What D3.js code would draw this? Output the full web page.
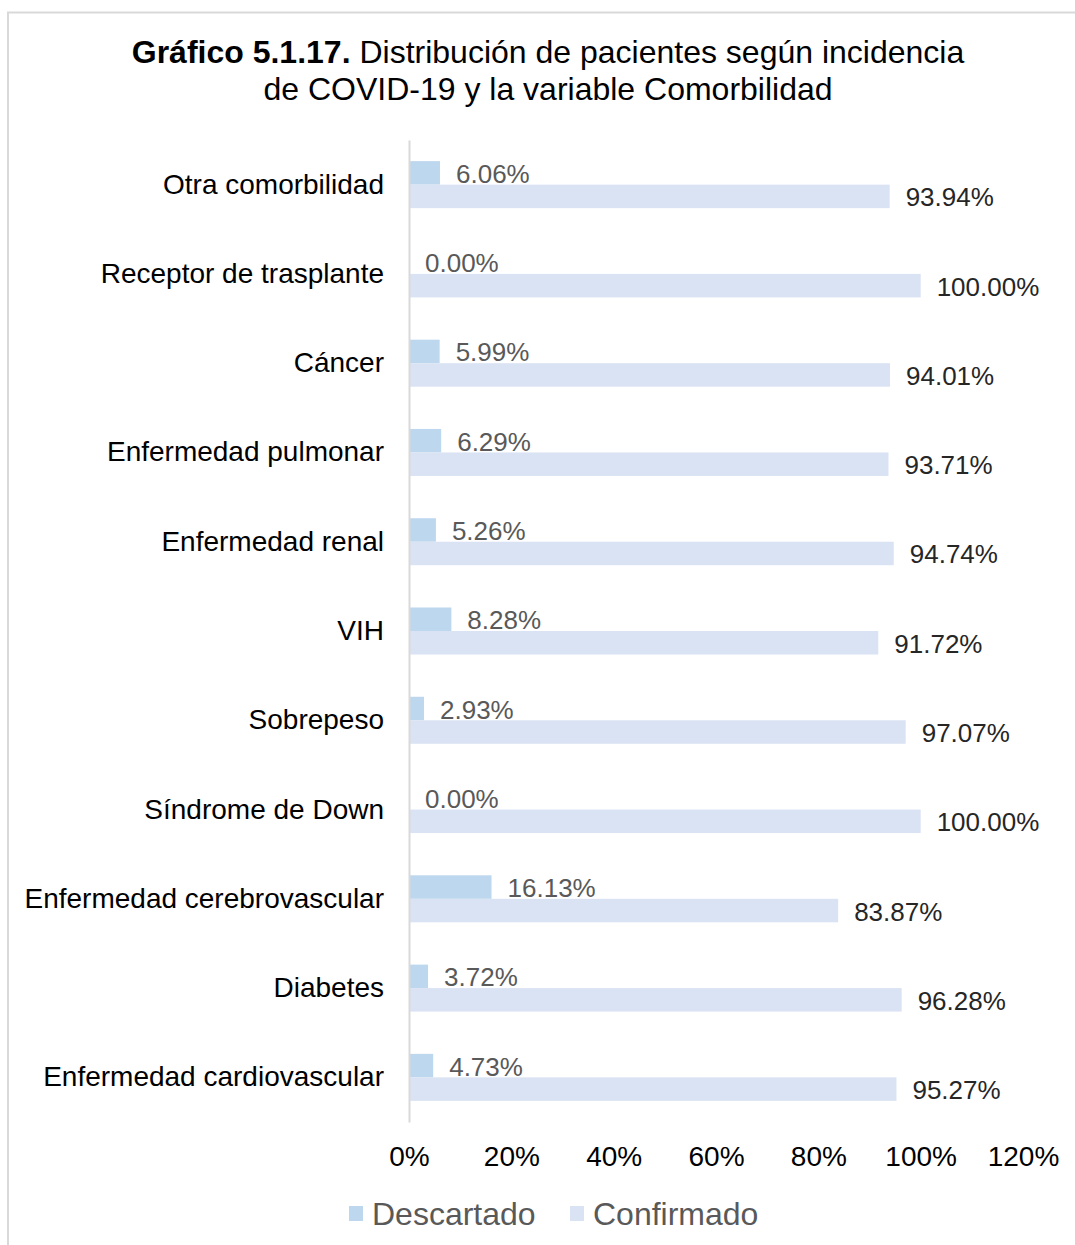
<!DOCTYPE html>
<html>
<head>
<meta charset="UTF-8">
<title>Gráfico 5.1.17</title>
<script src="https://cdn.jsdelivr.net/npm/d3@7"></script>
<style>
  body { margin: 0; background: #fff; }
  text { font-family: "Liberation Sans", Arial, sans-serif; }
</style>
</head>
<body>
<script>
const categories = ['Otra comorbilidad', 'Receptor de trasplante', 'Cáncer', 'Enfermedad pulmonar',
  'Enfermedad renal', 'VIH', 'Sobrepeso', 'Síndrome de Down', 'Enfermedad cerebrovascular',
  'Diabetes', 'Enfermedad cardiovascular'];
const descartado = [6.06, 0.00, 5.99, 6.29, 5.26, 8.28, 2.93, 0.00, 16.13, 3.72, 4.73];
const confirmado = [93.94, 100.00, 94.01, 93.71, 94.74, 91.72, 97.07, 100.00, 83.87, 96.28, 95.27];
const seriesNames = ['Descartado', 'Confirmado'];
const colors = ['#BDD7EE', '#DAE3F3'];
const labelColors = ['#595959', '#262626'];
const ticks = [0, 20, 40, 60, 80, 100, 120];

const width = 1075, height = 1245;
const svg = d3.select('body').append('svg').attr('width', width).attr('height', height);

// frame
svg.append('path').attr('d', `M8,${height + 5} V12.5 H${width + 5}`)
  .attr('fill', 'none').attr('stroke', '#D9D9D9').attr('stroke-width', 2);

// title
const title = svg.append('text').attr('text-anchor', 'middle').attr('font-size', 32).attr('fill', '#000');
const l1 = title.append('tspan').attr('x', 548).attr('y', 63);
l1.append('tspan').attr('font-weight', 'bold').text('Gráfico 5.1.17.');
l1.append('tspan').text(' Distribución de pacientes según incidencia');
title.append('tspan').attr('x', 548).attr('y', 100).text('de COVID-19 y la variable Comorbilidad');

const x = d3.scaleLinear().domain([0, 120]).range([409, 1023]);
const y = d3.scaleBand().domain(categories).range([140, 1122]);
const sub = d3.scaleBand().domain(seriesNames).range([y.bandwidth() / 2 - 23.5, y.bandwidth() / 2 + 23.5]);

const rows = categories.map((c, i) => ({ cat: c, vals: [descartado[i], confirmado[i]] }));

const g = svg.append('g');
const row = g.selectAll('g.row').data(rows).join('g').attr('class', 'row')
  .attr('transform', d => `translate(0,${y(d.cat)})`);

row.selectAll('rect').data(d => d.vals.map((v, j) => ({ v, s: seriesNames[j], j })))
  .join('rect')
  .attr('x', x(0)).attr('y', d => sub(d.s))
  .attr('width', d => x(d.v) - x(0)).attr('height', sub.bandwidth())
  .attr('fill', d => colors[d.j]);

row.selectAll('text.val').data(d => d.vals.map((v, j) => ({ v, s: seriesNames[j], j })))
  .join('text').attr('class', 'val')
  .attr('x', d => x(d.v) + 16).attr('y', d => sub(d.s) + sub.bandwidth() / 2 + 10)
  .attr('font-size', 26).attr('fill', d => labelColors[d.j])
  .text(d => d.v.toFixed(2) + '%');

// category axis
const yAxis = svg.append('g').attr('transform', `translate(${x(0)},0)`)
  .call(d3.axisLeft(y).tickSize(0).tickPadding(25));
yAxis.select('.domain').attr('stroke', '#D9D9D9').attr('stroke-width', 2);
yAxis.selectAll('text').attr('font-size', 28).attr('fill', '#000')
  .attr('font-family', '"Liberation Sans", Arial, sans-serif');

// value axis labels
const xAxis = svg.append('g').attr('transform', 'translate(0,1122)')
  .call(d3.axisBottom(x).tickValues(ticks).tickSize(0).tickPadding(24).tickFormat(d => d + '%'));
xAxis.select('.domain').remove();
xAxis.selectAll('text').attr('font-size', 28).attr('fill', '#000')
  .attr('font-family', '"Liberation Sans", Arial, sans-serif');

// legend
const legendX = [349, 570];
const lg = svg.append('g').selectAll('g').data(seriesNames).join('g')
  .attr('transform', (d, i) => `translate(${legendX[i]},1206)`);
lg.append('rect').attr('width', 14).attr('height', 15).attr('fill', (d, i) => colors[i]);
lg.append('text').attr('x', 23).attr('y', 19).attr('font-size', 32).attr('fill', '#595959').text(d => d);
</script>
</body>
</html>
